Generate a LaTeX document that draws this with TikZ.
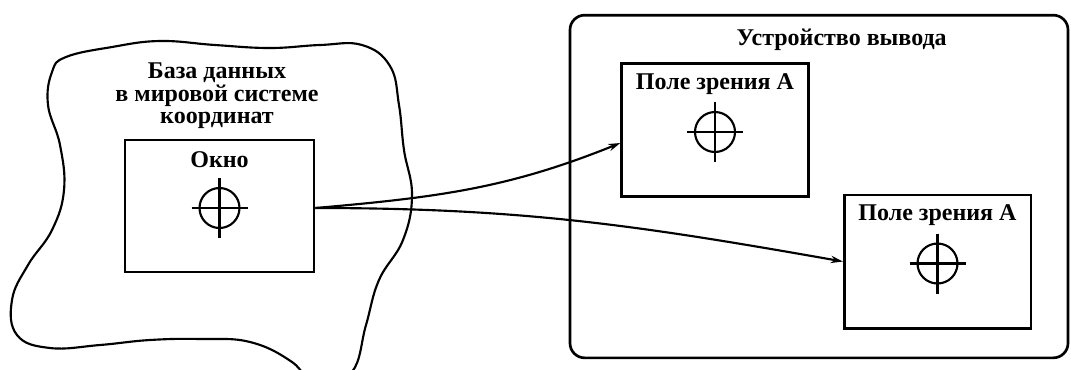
\documentclass[tikz,border=0pt]{standalone}
\usepackage{fontspec}
\setmainfont{Liberation Serif}
\usetikzlibrary{arrows.meta, positioning}

\begin{document}
\begin{tikzpicture}[x=0.75pt, y=-0.75pt, font=\fontsize{18}{17}\selectfont\bfseries,
    box/.style={draw, line width=2pt, minimum width=140pt, minimum height=100pt},
    lbl/.style={inner sep=0pt, text height=12.5pt, text depth=3.5pt},
    link/.style={line width=1.6pt, -{Stealth[length=9pt, width=5.5pt]}},
    cross/.style={line width=1.6pt}]

  \useasboundingbox (0,0) rectangle (1071,369);

  % --- Мировая система координат (контур) ---
  \begin{scope}
    \clip (0,0) rectangle (1071,369);
    \draw[line width=1.6pt] plot[smooth cycle, tension=0.7] coordinates {
      (66,57) (112,47) (160,41) (215,45) (270,48) (320,45) (362,45)
      (390,66) (399,105) (404,150) (412,195) (403,240) (379,280)
      (366,325) (352,372) (318,388) (292,362) (250,342) (200,339)
      (150,340) (100,345) (50,348) (17,335) (12,300) (28,265)
      (52,230) (64,190) (60,145) (48,105) (52,72)};
  \end{scope}

  % --- Окно ---
  \node[box, minimum width=141.75pt, minimum height=99pt] (window) at (219.5,206) {};
  \node[lbl] (winlbl) at ([yshift=-17pt]window.north) {Окно};
  \node[align=center, inner sep=0pt] (dblbl) at (217,96)
    {База данных\\в мировой системе\\координат};

  % --- Устройство вывода ---
  \node[draw, line width=2pt, rounded corners=11pt, minimum width=373.5pt,
        minimum height=257pt] (device) at (819,186.5) {};
  \node[lbl] (devlbl) at ([xshift=17pt, yshift=-19pt]device.north) {Устройство вывода};

  \node[box] (viewA) at (715,130) {};
  \node[lbl] (viewAlbl) at ([yshift=-16pt]viewA.north) {Поле зрения А};
  \node[box] (viewB) at (937.5,261.5) {};
  \node[lbl] (viewBlbl) at ([yshift=-16pt]viewB.north) {Поле зрения А};

  % --- перекрестия ---
  \foreach \v in {window, viewA, viewB} {
    \draw[cross] ([yshift=-1.5pt]\v.center) circle[radius=15pt];
    \draw[cross] ([xshift=-21pt, yshift=-1.5pt]\v.center) -- ([xshift=21pt, yshift=-1.5pt]\v.center);
    \draw[cross] ([yshift=21pt]\v.center) -- ([yshift=-24pt]\v.center);
  }

  % --- отображение окна в поля зрения ---
  \draw[link] ([yshift=-1.5pt]window.east) to[out=5, in=202] ([yshift=-9.75pt]viewA.west);
  \draw[link] ([yshift=-1.5pt]window.east) to[out=0, in=170] (viewB.west);

\end{tikzpicture}
\end{document}
